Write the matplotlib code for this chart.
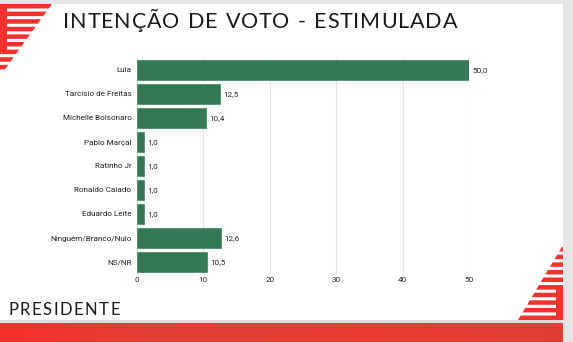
import numpy as np
import matplotlib.pyplot as plt
from matplotlib.patches import Polygon, Rectangle

categories = ['Lula', 'Tarcísio de Freitas', 'Michelle Bolsonaro', 'Pablo Marçal',
              'Ratinho Jr', 'Ronaldo Caiado', 'Eduardo Leite',
              'Ninguém/Branco/Nulo', 'NS/NR']
values = [50.0, 12.5, 10.4, 1.0, 1.0, 1.0, 1.0, 12.6, 10.5]
xticks = [0, 10, 20, 30, 40, 50]

RED = '#f2322f'
GREEN = '#367a55'

fig = plt.figure(figsize=(5.73, 3.42), dpi=100)
fig.patch.set_facecolor('white')

# background decorations in pixel coords
bg = fig.add_axes([0, 0, 1, 1], zorder=0)
bg.set_xlim(0, 573)
bg.set_ylim(342, 0)
bg.axis('off')
bg.add_patch(Rectangle((0, 0), 573, 3.5, color='#e6e6e6', lw=0))
bg.add_patch(Rectangle((563, 0), 10, 342, color='#e4e4e4', lw=0))
bg.add_patch(Rectangle((0, 319.5), 563, 4, color='#dedede', lw=0))

# bottom red band
grad = np.linspace(0, 1, 256).reshape(1, -1)
bg.imshow(grad, extent=(0, 563, 342, 323.5), aspect='auto',
          cmap=plt.matplotlib.colors.LinearSegmentedColormap.from_list(
              'band', ['#f5302c', '#e2403a', '#ec3a34', '#e03d38']), zorder=1)

# top-left stripes
def hyp_tl(y):
    return 52 - 0.72 * (y - 4)

y = 4
while y < 70:
    y2 = y + 4.5
    bg.add_patch(Polygon([(0, y), (hyp_tl(y), y), (hyp_tl(y2), y2), (0, y2)],
                         color=RED, lw=0, zorder=2))
    y += 7.6
bg.add_patch(Polygon([(0, 4), (7, 4), (7, 50), (0, 50)], color=RED, lw=0, zorder=2))

# bottom-right stripes
def hyp_br(y):
    return 563 - 0.6 * (y - 245)

y = 320
while y > 244:
    y1 = y - 4.5
    bg.add_patch(Polygon([(563, y), (hyp_br(y), y), (hyp_br(y1), y1), (563, y1)],
                         color=RED, lw=0, zorder=2))
    y -= 7.6
bg.add_patch(Polygon([(556, 288), (563, 288), (563, 320), (556, 320)], color=RED, lw=0, zorder=2))


def spaced_text(x0, y0, s, size, total_width, family='Lato', weight='normal'):
    # one text per character, measured by the renderer, to fake letter spacing
    renderer = fig.canvas.get_renderer()
    space_w = size * 100 / 72 * 0.3
    items = []
    for c in s:
        if c == ' ':
            items.append((None, space_w))
        else:
            t = bg.text(x0, y0, c, fontsize=size, family=family, fontweight=weight,
                        color='#1a1a1a', va='center', ha='left')
            items.append((t, t.get_window_extent(renderer).width))
    gap = (total_width - sum(w for _, w in items)) / (len(s) - 1)
    x = x0
    for t, w in items:
        if t is not None:
            t.set_x(x)
        x += w + gap


spaced_text(63, 22, 'INTENÇÃO DE VOTO - ESTIMULADA', 15.5, 394)
spaced_text(8, 310, 'PRESIDENTE', 12, 112)

# chart
FS = 5.9
FONT = 'Roboto'
ax = fig.add_axes([137 / 573, 1 - 274 / 342, 332 / 573, 216 / 342], zorder=3)
ax.patch.set_alpha(0)
ypos = np.arange(len(categories))
ax.barh(ypos, values, height=0.86, color=GREEN, edgecolor='#4a8d68', lw=0.6, zorder=3)
for yi, v in zip(ypos, values):
    ax.text(v + 0.5, yi, f'{v:.1f}'.replace('.', ','), va='center', ha='left',
            fontsize=FS, color='#222222', family=FONT)
ax.set_yticks(ypos)
ax.set_yticklabels(categories, fontsize=FS, color='#222222', family=FONT)
ax.set_xticks(xticks)
ax.set_xticklabels([str(t) for t in xticks], fontsize=FS, color='#222222', family=FONT)
ax.set_xlim(0, 50)
ax.set_ylim(len(categories) - 0.5, -0.5)
ax.grid(axis='x', color='#e4e4e4', lw=0.8, zorder=0)
ax.tick_params(axis='y', length=0, pad=4)
ax.tick_params(axis='x', length=0, pad=2)
for s in ax.spines.values():
    s.set_visible(False)

fig.savefig('out.png', dpi=100)
